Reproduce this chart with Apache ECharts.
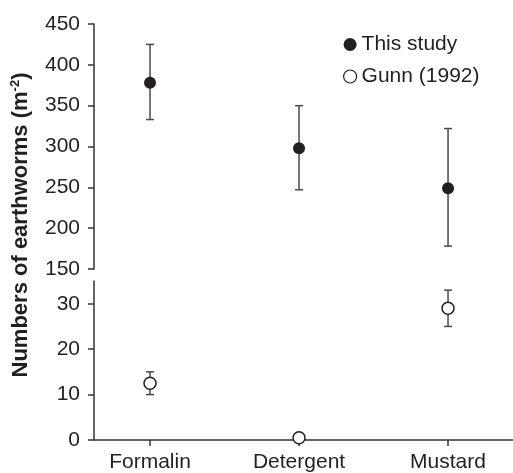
<!DOCTYPE html>
<html>
<head>
<meta charset="utf-8">
<script src="https://cdn.jsdelivr.net/npm/echarts@6/dist/echarts.min.js"></script>
<style>
  html, body { margin: 0; padding: 0; background: #fff; }
  #chart { width: 513px; height: 473px; }
</style>
</head>
<body>
<div id="chart"></div>
<script>
// data
const categories = ['Formalin', 'Detergent', 'Mustard'];
const studyMean = [378, 298, 249];
const studyLow = [333, 247, 178];
const studyHigh = [425, 350, 322];
const gunnMean = [12.5, 0.5, 29];
const gunnLow = [10, null, 25];
const gunnHigh = [15, null, 33];
const upperTicks = { min: 150, max: 450, interval: 50 };
const lowerTicks = { min: 0, max: 35, interval: 10 };

const ink = '#231f20';
const axisInk = '#333';
const font = 'Liberation Sans, Arial, Helvetica, sans-serif';
const xMin = -0.376, xMax = 2.436;

const points = (mean) => mean.map((v, i) => [i, v]);
const bars = (low, high) => low.map((lo, i) => [i, lo, high[i]]).filter(d => d[1] != null);

function renderErrorBar(params, api) {
  const x = api.value(0);
  const lo = api.coord([x, api.value(1)]);
  const hi = api.coord([x, api.value(2)]);
  const cap = 4;
  const style = { stroke: '#4a4a4a', lineWidth: 1.5 };
  return {
    type: 'group',
    children: [
      { type: 'line', shape: { x1: lo[0], y1: lo[1], x2: hi[0], y2: hi[1] }, style },
      { type: 'line', shape: { x1: lo[0] - cap, y1: lo[1], x2: lo[0] + cap, y2: lo[1] }, style },
      { type: 'line', shape: { x1: hi[0] - cap, y1: hi[1], x2: hi[0] + cap, y2: hi[1] }, style }
    ]
  };
}

const chart = echarts.init(document.getElementById('chart'));

const yAxisCommon = {
  type: 'value',
  axisLine: { show: true, onZero: false, lineStyle: { color: axisInk, width: 1.5 } },
  axisTick: { show: true, inside: false, length: 6, lineStyle: { color: axisInk, width: 1.5 } },
  axisLabel: { color: ink, fontSize: 21, fontFamily: font, margin: 14 },
  splitLine: { show: false }
};

const option = {
  animation: false,
  textStyle: { fontFamily: font },
  grid: [
    { left: 94, top: 24, width: 419, height: 245 },
    { left: 94, top: 281, width: 419, height: 160 }
  ],
  xAxis: [
    { gridIndex: 0, type: 'value', min: xMin, max: xMax, show: false },
    {
      gridIndex: 1, type: 'value', min: xMin, max: xMax,
      axisLine: { show: true, onZero: false, lineStyle: { color: axisInk, width: 1.5 } },
      axisTick: { show: true, length: 6, customValues: [0, 1, 2], lineStyle: { color: axisInk, width: 1.5 } },
      axisLabel: {
        customValues: [0, 1, 2],
        formatter: (v) => categories[Math.round(v)],
        color: ink, fontSize: 21, fontFamily: font, margin: 12
      },
      splitLine: { show: false }
    }
  ],
  yAxis: [
    Object.assign({ gridIndex: 0 }, yAxisCommon, upperTicks),
    Object.assign({}, yAxisCommon, lowerTicks, {
      gridIndex: 1,
      axisLabel: Object.assign({}, yAxisCommon.axisLabel, { showMaxLabel: false })
    })
  ],
  legend: {
    orient: 'vertical',
    left: 338,
    top: 29,
    itemWidth: 13,
    itemHeight: 13,
    itemGap: 11,
    textStyle: { color: ink, fontSize: 21, fontFamily: font },
    data: [
      { name: 'This study', icon: 'circle', itemStyle: { color: ink } },
      { name: 'Gunn (1992)', icon: 'circle', itemStyle: { color: '#fff', borderColor: ink, borderWidth: 1.2 } }
    ]
  },
  graphic: [{
    type: 'text',
    x: 21,
    y: 225,
    rotation: Math.PI / 2,
    style: {
      text: '{a|Numbers of earthworms (m}{s|-2}{a|)}',
      align: 'center',
      verticalAlign: 'middle',
      fill: ink,
      rich: {
        a: { fontSize: 22, fontWeight: 'bold', fontFamily: font, fill: ink, lineHeight: 24 },
        s: { fontSize: 13, fontWeight: 'bold', fontFamily: font, fill: ink, verticalAlign: 'top', lineHeight: 24 }
      }
    }
  }],
  series: [
    {
      type: 'custom', xAxisIndex: 0, yAxisIndex: 0,
      renderItem: renderErrorBar,
      data: bars(studyLow, studyHigh), z: 2
    },
    {
      type: 'custom', xAxisIndex: 1, yAxisIndex: 1,
      renderItem: renderErrorBar,
      data: bars(gunnLow, gunnHigh), z: 2
    },
    {
      name: 'This study', type: 'scatter', xAxisIndex: 0, yAxisIndex: 0,
      symbol: 'circle', symbolSize: 12,
      itemStyle: { color: ink, opacity: 1 },
      data: points(studyMean), z: 3, clip: false
    },
    {
      name: 'Gunn (1992)', type: 'scatter', xAxisIndex: 1, yAxisIndex: 1,
      symbol: 'circle', symbolSize: 12,
      itemStyle: { color: '#fff', borderColor: ink, borderWidth: 1.5, opacity: 1 },
      data: points(gunnMean), z: 3, clip: false
    }
  ]
};

chart.setOption(option);
</script>
</body>
</html>
